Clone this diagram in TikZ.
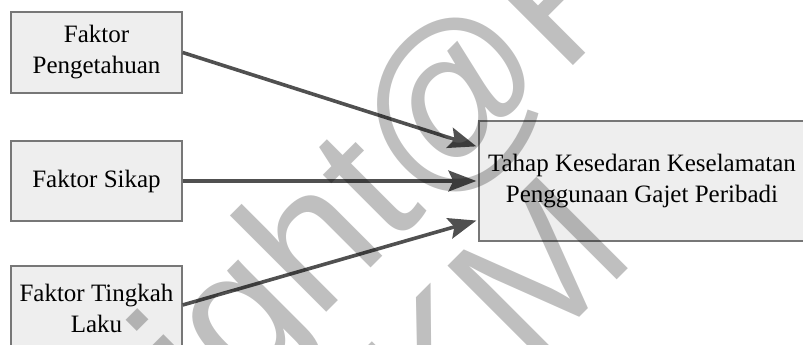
\documentclass[tikz,border=0pt]{standalone}
\usepackage{fontspec}
\setmainfont{Liberation Serif}
\newfontfamily\wmfont{Liberation Sans}
\usetikzlibrary{arrows.meta}
\definecolor{boxfill}{HTML}{EEEEEE}
\definecolor{boxline}{HTML}{777777}
\definecolor{arrowcol}{HTML}{505050}
\tikzset{
  factor/.style={draw=boxline, line width=1.3pt, fill=boxfill, align=center,
    minimum width=171pt, inner sep=2pt,
    font=\fontsize{25pt}{31pt}\selectfont},
  link/.style={draw=arrowcol, line width=3.6pt,
    -{Stealth[length=28pt, width=21pt, inset=5pt]}, shorten >=2pt},
  watermark/.style={text=black, text opacity=0.25, anchor=base, rotate=45,
    font=\wmfont\fontsize{188pt}{210pt}\selectfont, inner sep=0pt}
}
\begin{document}
\begin{tikzpicture}[x=1pt, y=1pt]
  \useasboundingbox (0,0) rectangle (803,-345);

  % factor boxes on the left
  \node[factor, minimum height=81pt] (peng) at (96.5,-52.5) {Faktor\\Pengetahuan};
  \node[factor, minimum height=80pt] (sikap) at (96.5,-181) {Faktor Sikap};
  \node[factor, minimum height=84pt] (laku) at (96.5,-308) {Faktor Tingkah\\Laku};

  % outcome box on the right
  \node[factor, minimum width=326pt, minimum height=120pt] (tahap) at (642,-181)
    {Tahap Kesedaran Keselamatan\\Penggunaan Gajet Peribadi};

  % influence arrows
  \draw[link] (peng.east) -- ([yshift=34pt]tahap.west);
  \draw[link] (sikap.east) -- (tahap.west);
  \draw[link] ([yshift=3pt]laku.east) -- ([yshift=-39pt]tahap.west);

  % copyright overlay, two diagonal lines
  \node[watermark] (wmtop) at (392,-247) {Copyright@FTSM};
  \node[watermark] (wmbottom) at (492,-405) {UKM};
\end{tikzpicture}
\end{document}
